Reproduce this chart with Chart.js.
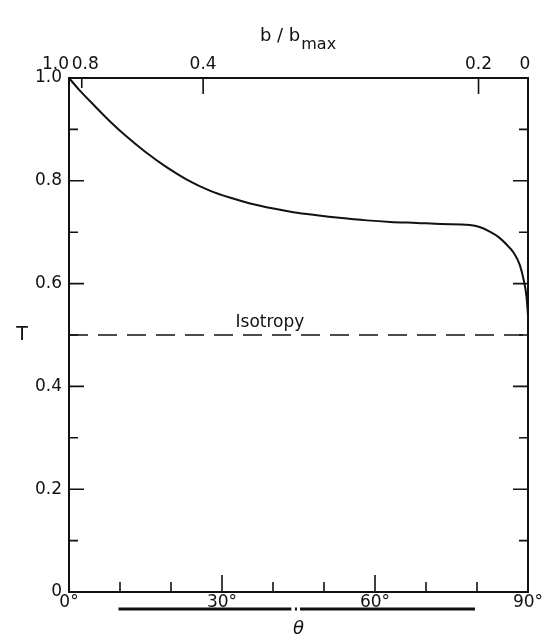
<!DOCTYPE html>
<html>
<head>
<meta charset="utf-8">
<script src="https://cdn.jsdelivr.net/npm/chart.js@4.4.1/dist/chart.umd.min.js"></script>
<style>
  html, body { margin: 0; padding: 0; background: #fff; }
  #wrap { width: 552px; height: 640px; }
</style>
</head>
<body>
<div id="wrap"><canvas id="c" width="552" height="640"></canvas></div>
<script>
// ---- data ----
const thetaDeg = [0, 2, 4.8, 8, 11.3, 15, 19.2, 23, 27.6, 32, 35.5, 40.1, 44, 48.6, 53, 58.4, 63, 68.2, 73, 78.6, 80.5, 82.5, 84.3, 85.8, 87.2, 88.4, 89.2, 89.7, 90];
const tValues  = [1.0, 0.977, 0.948, 0.916, 0.886, 0.856, 0.826, 0.803, 0.781, 0.766, 0.756, 0.746, 0.739, 0.733, 0.728, 0.723, 0.720, 0.718, 0.716, 0.714, 0.710, 0.701, 0.69, 0.676, 0.66, 0.636, 0.605, 0.575, 0.538];
const isotropyT = 0.5;
const isotropyLabel = "Isotropy";
const isotropyLabelAt = [39.4, 0.525];
const yTickLabels = { 0: "0", 0.2: "0.2", 0.4: "0.4", 0.6: "0.6", 0.8: "0.8", 1: "1.0" };
const yMinorTicks = [0.1, 0.2, 0.3, 0.4, 0.5, 0.6, 0.7, 0.8, 0.9];
const xTickLabels = { 0: "0°", 30: "30°", 60: "60°", 90: "90°" };
const xMinorTicks = [10, 20, 30, 40, 50, 60, 70, 80];
const topTickLabels = ["1.0", "0.8", "0.4", "0.2", "0"];
const topTickTheta  = [0, 2.5, 26.3, 80.3, 90];
// thick bar drawn under the θ axis in the original (two segments with a dot between)
const barTheta = [9.7, 43.6, null, 44.3, 44.7, null, 45.3, 79.6];
const barT = -0.033;

const FONT = "'DejaVu Sans', sans-serif";
const INK = "#111";

const curve = thetaDeg.map((x, i) => ({ x, y: tValues[i] }));
const iso = [{ x: 0, y: isotropyT }, { x: 90, y: isotropyT }];
const bar = barTheta.map(x => (x === null ? { x: null, y: null } : { x, y: barT }));

const decor = {
  id: "decor",
  afterDraw(chart) {
    const ctx = chart.ctx;
    const a = chart.chartArea;
    const xs = chart.scales.x, ys = chart.scales.y;
    ctx.save();
    ctx.strokeStyle = INK;
    ctx.fillStyle = INK;
    // frame
    ctx.lineWidth = 2;
    ctx.strokeRect(a.left, a.top, a.right - a.left, a.bottom - a.top);
    // inward ticks y (both sides)
    ctx.lineWidth = 1.6;
    ctx.beginPath();
    yMinorTicks.forEach((v, i) => {
      const p = ys.getPixelForValue(v);
      const len = (i % 2 === 1) ? 15 : 9;
      ctx.moveTo(a.left, p); ctx.lineTo(a.left + len, p);
      ctx.moveTo(a.right, p); ctx.lineTo(a.right - len, p);
    });
    // inward ticks bottom
    xMinorTicks.forEach(t => {
      const p = xs.getPixelForValue(t);
      const len = (t === 30 || t === 60) ? 17 : 10;
      ctx.moveTo(p, a.bottom); ctx.lineTo(p, a.bottom - len);
    });
    // inward ticks top
    topTickTheta.forEach((t, i) => {
      if (i === 0 || i === topTickTheta.length - 1) return;
      const p = xs.getPixelForValue(t);
      const len = i === 1 ? 10 : 16;
      ctx.moveTo(p, a.top); ctx.lineTo(p, a.top + len);
    });
    ctx.stroke();
    // top labels
    ctx.font = "17px " + FONT;
    ctx.textBaseline = "middle";
    topTickTheta.forEach((t, i) => {
      const p = xs.getPixelForValue(t);
      const ly = a.top - 13;
      if (i === 0) { ctx.textAlign = "right"; ctx.fillText(topTickLabels[i], p, ly); }
      else if (i === 1) { ctx.textAlign = "left"; ctx.fillText(topTickLabels[i], p - 10, ly); }
      else if (i === topTickTheta.length - 1) { ctx.textAlign = "center"; ctx.fillText(topTickLabels[i], p - 3, ly); }
      else { ctx.textAlign = "center"; ctx.fillText(topTickLabels[i], p, ly); }
    });
    // top title b/b_max
    const cx = (a.left + a.right) / 2 - 1;
    const main = "b / b";
    ctx.font = "16px " + FONT;
    const subW = ctx.measureText("max").width;
    ctx.font = "18px " + FONT;
    const mainW = ctx.measureText(main).width;
    const x0 = cx - (mainW + subW) / 2;
    ctx.textAlign = "left";
    ctx.fillText(main, x0, 36);
    ctx.font = "16px " + FONT;
    ctx.fillText("max", x0 + mainW + 1, 45);
    // y title T
    ctx.font = "19px " + FONT;
    ctx.textAlign = "center";
    ctx.fillText("T", 22, ys.getPixelForValue(0.5));
    // isotropy label
    ctx.font = "17px " + FONT;
    ctx.fillText(isotropyLabel, xs.getPixelForValue(isotropyLabelAt[0]), ys.getPixelForValue(isotropyLabelAt[1]));
    ctx.restore();
  }
};

new Chart(document.getElementById("c"), {
  type: "scatter",
  data: {
    datasets: [
      { data: curve, showLine: true, borderColor: INK, borderWidth: 2, pointRadius: 0, cubicInterpolationMode: "monotone" },
      { data: iso, showLine: true, borderColor: INK, borderWidth: 1.5, borderDash: [19, 10], pointRadius: 0 },
      { data: bar, showLine: true, spanGaps: false, borderColor: INK, borderWidth: 3, pointRadius: 0, clip: false }
    ]
  },
  options: {
    responsive: false,
    animation: false,
    devicePixelRatio: 1,
    layout: { padding: { left: 0, right: 24, top: 0, bottom: 0 } },
    plugins: { legend: { display: false }, tooltip: { enabled: false } },
    scales: {
      x: {
        type: "linear", position: "bottom", min: 0, max: 90,
        afterBuildTicks: s => { s.ticks = Object.keys(xTickLabels).map(v => ({ value: +v })); },
        afterFit: s => { s.height = 48; },
        ticks: { callback: v => xTickLabels[v] || "", color: INK, font: { family: FONT, size: 17 }, padding: 0, maxRotation: 0, autoSkip: false },
        grid: { display: false, drawTicks: false },
        border: { display: false },
        title: { display: true, text: "θ", color: INK, font: { family: FONT, size: 18, style: "italic" }, padding: { top: 0, bottom: 0 } }
      },
      x2: {
        type: "linear", position: "top", min: 0, max: 90,
        afterBuildTicks: s => { s.ticks = topTickTheta.map(v => ({ value: v })); },
        afterFit: s => { s.height = 78; },
        ticks: { display: false },
        grid: { display: false, drawTicks: false },
        border: { display: false }
      },
      y: {
        type: "linear", min: 0, max: 1,
        afterBuildTicks: s => { s.ticks = Object.keys(yTickLabels).map(v => ({ value: +v })); },
        afterFit: s => { s.width = 69; },
        ticks: { callback: v => yTickLabels[v] || "", color: INK, font: { family: FONT, size: 17 }, padding: 7 },
        grid: { display: false, drawTicks: false },
        border: { display: false }
      }
    }
  },
  plugins: [decor]
});
</script>
</body>
</html>
